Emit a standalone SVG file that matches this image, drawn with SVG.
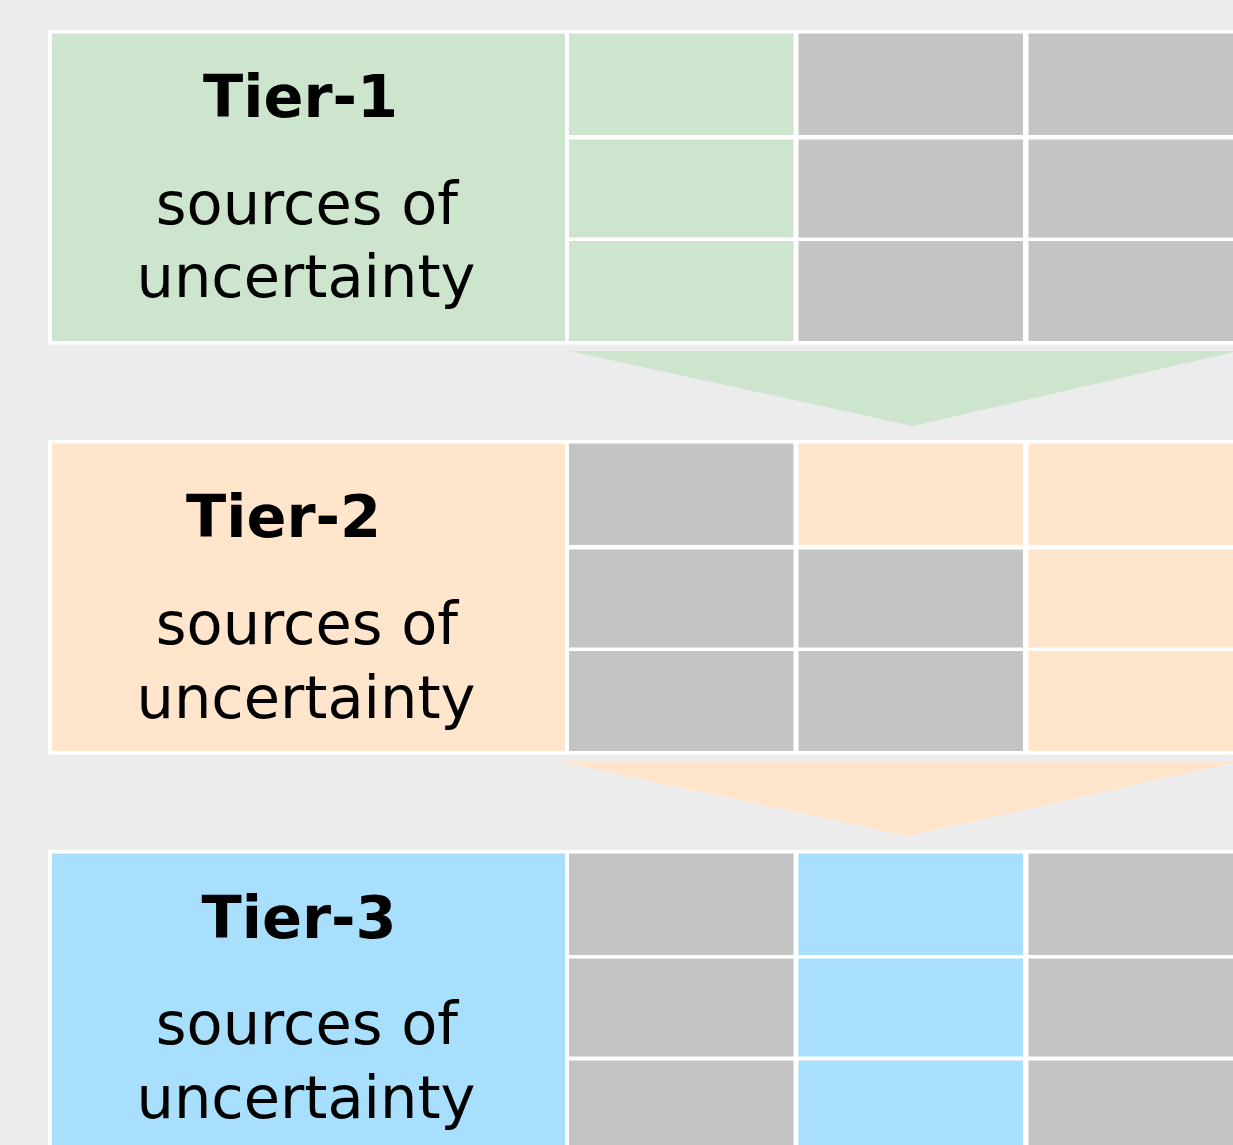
<svg xmlns="http://www.w3.org/2000/svg" width="1233" height="1145" viewBox="0 0 1233 1145">
  <style>
    .band { fill: #ffffff; }
    .grey { fill: #c4c4c4; }
    .t1 { fill: #cce5cc; }
    .t2 { fill: #ffe5cc; }
    .t3 { fill: #a7dffd; }
    .title { font-family: "DejaVu Sans", "Liberation Sans", sans-serif; font-weight: bold; font-size: 59px; fill: #000000; text-anchor: middle; }
    .body { font-family: "DejaVu Sans", "Liberation Sans", sans-serif; font-size: 59px; fill: #000000; text-anchor: middle; }
  </style>
  <defs>
    <!-- grid cells, one per row height -->
    <rect id="cellA" width="224.5" height="101.5"/>
    <rect id="cellB" width="224.5" height="98"/>
    <rect id="cellC" width="224.5" height="100"/>
  </defs>

  <rect x="0" y="0" width="1233" height="1145" fill="#ececec"/>

  <!-- Tier 1 -->
  <g id="tier1">
    <rect class="band" x="48" y="30" width="1200" height="314.5"/>
    <rect class="t1" x="52" y="33.5" width="513" height="307.5"/>
    <g>
      <use href="#cellA" class="t1" x="569" y="33.5"/>
      <use href="#cellA" class="grey" x="798.5" y="33.5"/>
      <use href="#cellA" class="grey" x="1028.5" y="33.5"/>
      <use href="#cellB" class="t1" x="569" y="139.5"/>
      <use href="#cellB" class="grey" x="798.5" y="139.5"/>
      <use href="#cellB" class="grey" x="1028.5" y="139.5"/>
      <use href="#cellC" class="t1" x="569" y="241"/>
      <use href="#cellC" class="grey" x="798.5" y="241"/>
      <use href="#cellC" class="grey" x="1028.5" y="241"/>
    </g>
    <text class="title" x="300.5" y="117">Tier-1</text>
    <text class="body" x="307" y="224">sources of</text>
    <text class="body" x="306" y="297">uncertainty</text>
  </g>

  <!-- Tier 2 -->
  <g id="tier2">
    <rect class="band" x="48" y="440" width="1200" height="314.5"/>
    <rect class="t2" x="52" y="443.5" width="513" height="307.5"/>
    <g>
      <use href="#cellA" class="grey" x="569" y="443.5"/>
      <use href="#cellA" class="t2" x="798.5" y="443.5"/>
      <use href="#cellA" class="t2" x="1028.5" y="443.5"/>
      <use href="#cellB" class="grey" x="569" y="549.5"/>
      <use href="#cellB" class="grey" x="798.5" y="549.5"/>
      <use href="#cellB" class="t2" x="1028.5" y="549.5"/>
      <use href="#cellC" class="grey" x="569" y="651"/>
      <use href="#cellC" class="grey" x="798.5" y="651"/>
      <use href="#cellC" class="t2" x="1028.5" y="651"/>
    </g>
    <text class="title" x="283.5" y="537">Tier-2</text>
    <text class="body" x="307" y="644">sources of</text>
    <text class="body" x="306" y="718">uncertainty</text>
  </g>

  <!-- Tier 3 (runs past the bottom edge) -->
  <g id="tier3">
    <rect class="band" x="48" y="850" width="1200" height="314.5"/>
    <rect class="t3" x="52" y="853.5" width="513" height="307.5"/>
    <g>
      <use href="#cellA" class="grey" x="569" y="853.5"/>
      <use href="#cellA" class="t3" x="798.5" y="853.5"/>
      <use href="#cellA" class="grey" x="1028.5" y="853.5"/>
      <use href="#cellB" class="grey" x="569" y="958.5"/>
      <use href="#cellB" class="t3" x="798.5" y="958.5"/>
      <use href="#cellB" class="grey" x="1028.5" y="958.5"/>
      <use href="#cellC" class="grey" x="569" y="1060.5"/>
      <use href="#cellC" class="t3" x="798.5" y="1060.5"/>
      <use href="#cellC" class="grey" x="1028.5" y="1060.5"/>
    </g>
    <text class="title" x="299" y="938">Tier-3</text>
    <text class="body" x="307" y="1044">sources of</text>
    <text class="body" x="306" y="1118">uncertainty</text>
  </g>

  <!-- Funnel arrows between tiers -->
  <g id="connectors">
    <polygon class="t1" points="569,351 1238,351 913,426"/>
    <polygon class="t2" points="561,762 1238,762 908,836"/>
  </g>
</svg>
